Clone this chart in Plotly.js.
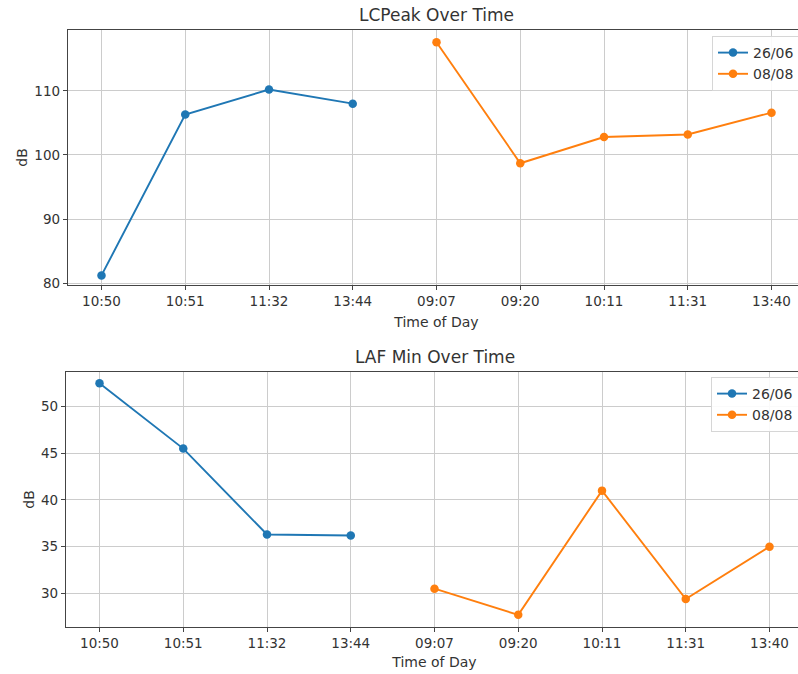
<!DOCTYPE html>
<html>
<head>
<meta charset="utf-8">
<script src="https://cdn.plot.ly/plotly-3.0.1.min.js"></script>
<style>
html, body { margin: 0; padding: 0; overflow: hidden; background: #fff; width: 798px; height: 674px; }
#chart { width: 810px; height: 674px; }
</style>
</head>
<body>
<div id="chart"></div>
<script>
// Category labels (time of day)
const timeLabels = ["10:50", "10:51", "11:32", "13:44", "09:07", "09:20", "10:11", "11:31", "13:40"];
const times26 = ["10:50", "10:51", "11:32", "13:44"];
const times08 = ["09:07", "09:20", "10:11", "11:31", "13:40"];
const seriesNames = ["26/06", "08/08"];

// LCPeak values (dB)
const lcpeak26 = [81.2, 106.3, 110.2, 108.0];
const lcpeak08 = [117.6, 98.7, 102.8, 103.2, 106.6];

// LAF Min values (dB)
const lafmin26 = [52.5, 45.5, 36.3, 36.2];
const lafmin08 = [30.5, 27.7, 41.0, 29.4, 35.0];

const blue = "#1f77b4", orange = "#ff7f0e";
const fontFam = "DejaVu Sans, Liberation Sans, sans-serif";
const txt = "#333333";

function trace(x, y, name, color, xa, ya, leg) {
  return {
    x: x, y: y, name: name, type: "scatter", mode: "lines+markers",
    line: {color: color, width: 1.9},
    marker: {color: color, size: 8.5},
    xaxis: xa, yaxis: ya, legend: leg
  };
}

const data = [
  trace(times26, lcpeak26, seriesNames[0], blue, "x", "y", "legend"),
  trace(times08, lcpeak08, seriesNames[1], orange, "x", "y", "legend"),
  trace(times26, lafmin26, seriesNames[0], blue, "x2", "y2", "legend2"),
  trace(times08, lafmin08, seriesNames[1], orange, "x2", "y2", "legend2")
];

const W = 810, H = 674, ml = 66, mr = 4, mt = 30, mb = 47;
const pw = W - ml - mr, ph = H - mt - mb;
function px2x(p) { return (p - ml) / pw; }
function py2y(p) { return (H - mb - p) / ph; }

function xax(dom, so) {
  return {
    type: "category", categoryorder: "array", categoryarray: timeLabels,
    range: [-0.4, 8.4], domain: dom,
    showgrid: true, gridcolor: "#cccccc", gridwidth: 1,
    showline: true, linecolor: "#444", linewidth: 1.2, mirror: true,
    ticks: "outside", ticklen: 4, tickcolor: "#444",
    tickfont: {family: fontFam, size: 13.5, color: txt},
    title: {text: "Time of Day", font: {family: fontFam, size: 14, color: txt}, standoff: so},
    zeroline: false, automargin: false
  };
}
function yax(dom, rng, dt, t0) {
  return {
    range: rng, domain: dom, dtick: dt, tick0: t0,
    showgrid: true, gridcolor: "#cccccc", gridwidth: 1,
    showline: true, linecolor: "#444", linewidth: 1.2, mirror: true,
    ticks: "outside", ticklen: 4, tickcolor: "#444",
    tickfont: {family: fontFam, size: 13.5, color: txt},
    title: {text: "dB", font: {family: fontFam, size: 14, color: txt}, standoff: 3},
    zeroline: false, automargin: false
  };
}

const legendStyle = {
  bgcolor: "rgba(255,255,255,0.9)", bordercolor: "#d6d6d6", borderwidth: 1,
  font: {family: fontFam, size: 14, color: txt},
  xanchor: "right", yanchor: "top", tracegroupgap: 0
};

const layout = {
  width: W, height: H,
  margin: {l: ml, r: mr, t: mt, b: mb},
  paper_bgcolor: "#fff", plot_bgcolor: "#fff",
  showlegend: true,
  xaxis: Object.assign(xax([px2x(68), px2x(805)], 8), {anchor: "y"}),
  yaxis: Object.assign(yax([py2y(285), py2y(30)], [79.7, 119.5], 10, 80), {anchor: "x"}),
  xaxis2: Object.assign(xax([px2x(66), px2x(803)], 6), {anchor: "y2"}),
  yaxis2: Object.assign(yax([py2y(627), py2y(372)], [26.4, 53.7], 5, 30), {anchor: "x2"}),
  legend: Object.assign({}, legendStyle, {x: px2x(800), y: py2y(36)}),
  legend2: Object.assign({}, legendStyle, {x: px2x(799), y: py2y(377)}),
  annotations: [
    {text: "LCPeak Over Time", xref: "x domain", yref: "y domain", x: 0.5, y: 1, yanchor: "bottom", yshift: 3, showarrow: false, font: {family: fontFam, size: 17, color: txt}},
    {text: "LAF Min Over Time", xref: "x2 domain", yref: "y2 domain", x: 0.5, y: 1, yanchor: "bottom", yshift: 3, showarrow: false, font: {family: fontFam, size: 17, color: txt}}
  ]
};

Plotly.newPlot("chart", data, layout, {staticPlot: true, displayModeBar: false});
</script>
</body>
</html>
